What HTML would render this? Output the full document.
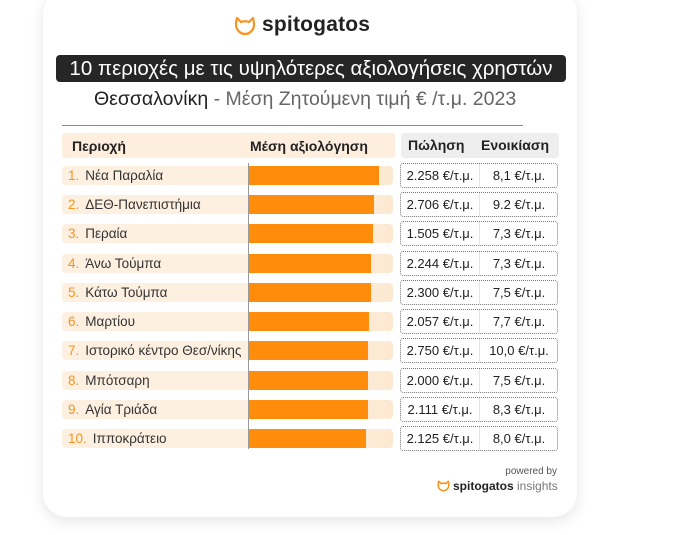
<!DOCTYPE html>
<html><head><meta charset="utf-8"><style>
body{margin:0;width:677px;height:535px;background:#fff;position:relative;overflow:hidden;font-family:"Liberation Sans","DejaVu Sans",sans-serif;}
.card{position:absolute;left:43px;top:-10px;width:534px;height:527px;background:#fff;border-radius:24px;box-shadow:0 4px 14px rgba(0,0,0,0.10);}
.a{position:absolute;}
.row{position:absolute;left:62px;width:331px;height:19px;border-radius:4px;background:linear-gradient(90deg,#fdf0e1 0%,#fdf0e1 60%,#fde9d2 100%);}
.lbl{position:absolute;left:68px;font-size:13.5px;color:#333;line-height:19px;}
.lbl span{color:#f7931e;margin-right:6px;}
.bar{position:absolute;left:249px;height:19px;background:#ff8c0a;}
.box{position:absolute;left:400px;width:156px;height:23px;border:1px dotted #777;border-radius:3px;font-size:13px;color:#222;}
.box .s{position:absolute;left:0;width:78px;text-align:center;line-height:23px;}
.box .r{position:absolute;left:78px;width:78px;text-align:center;line-height:23px;border-left:1px solid #fbe0c0;}
</style></head><body>
<div class="card"></div>
<svg class="a" style="left:234px;top:16px" width="22" height="20" viewBox="0 0 22 20"><path d="M3 2 L7 6 Q11 4.5 15 6 L19 2 Q21 9 19 13 Q16 18 11 18 Q6 18 3 13 Q1 9 3 2Z" fill="none" stroke="#f7931e" stroke-width="2.2" stroke-linejoin="round"/></svg>
<div class="a" style="left:262px;top:13px;font-size:21px;font-weight:bold;color:#222;letter-spacing:0.2px">spitogatos</div>
<div class="a" style="left:56px;top:55px;width:510px;height:27px;background:#262626;border-radius:4px;color:#fff;font-size:20.5px;line-height:27px;text-align:center;white-space:nowrap">10 περιοχές με τις υψηλότερες αξιολογήσεις χρηστών</div>
<div class="a" style="left:94px;top:88px;font-size:19.5px;color:#222;white-space:nowrap">Θεσσαλονίκη <span style="color:#666;font-weight:300">- Μέση Ζητούμενη τιμή € /τ.μ. 2023</span></div>
<div class="a" style="left:62px;top:125px;width:461px;height:1px;background:#888"></div>
<div class="a" style="left:62px;top:133px;width:333px;height:25px;background:#fdeedd;border-radius:3px"></div>
<div class="a" style="left:72px;top:138px;font-size:14px;font-weight:bold;color:#222">Περιοχή</div>
<div class="a" style="left:250px;top:138px;font-size:14px;font-weight:bold;color:#222">Μέση αξιολόγηση</div>
<div class="a" style="left:401px;top:133px;width:158px;height:25px;background:#eeeeee;border-radius:3px"></div>
<div class="a" style="left:408px;top:137px;font-size:14px;font-weight:bold;color:#222">Πώληση</div>
<div class="a" style="left:481px;top:137px;font-size:14px;font-weight:bold;color:#222">Ενοικίαση</div>

<div class="row" style="top:166px"></div><div class="lbl" style="top:166px"><span>1.</span>Νέα Παραλία</div><div class="bar" style="top:166px;width:130px"></div>
<div class="row" style="top:195px"></div><div class="lbl" style="top:195px"><span>2.</span>ΔΕΘ-Πανεπιστήμια</div><div class="bar" style="top:195px;width:125px"></div>
<div class="row" style="top:224px"></div><div class="lbl" style="top:224px"><span>3.</span>Περαία</div><div class="bar" style="top:224px;width:124px"></div>
<div class="row" style="top:254px"></div><div class="lbl" style="top:254px"><span>4.</span>Άνω Τούμπα</div><div class="bar" style="top:254px;width:122px"></div>
<div class="row" style="top:283px"></div><div class="lbl" style="top:283px"><span>5.</span>Κάτω Τούμπα</div><div class="bar" style="top:283px;width:122px"></div>
<div class="row" style="top:312px"></div><div class="lbl" style="top:312px"><span>6.</span>Μαρτίου</div><div class="bar" style="top:312px;width:120px"></div>
<div class="row" style="top:341px"></div><div class="lbl" style="top:341px"><span>7.</span>Ιστορικό κέντρο Θεσ/νίκης</div><div class="bar" style="top:341px;width:119px"></div>
<div class="row" style="top:371px"></div><div class="lbl" style="top:371px"><span>8.</span>Μπότσαρη</div><div class="bar" style="top:371px;width:119px"></div>
<div class="row" style="top:400px"></div><div class="lbl" style="top:400px"><span>9.</span>Αγία Τριάδα</div><div class="bar" style="top:400px;width:119px"></div>
<div class="row" style="top:429px"></div><div class="lbl" style="top:429px"><span>10.</span>Ιπποκράτειο</div><div class="bar" style="top:429px;width:117px"></div>
<div class="a" style="left:248px;top:163px;width:1px;height:286px;background:#999"></div>

<div class="box" style="top:163px"><div class="s">2.258 €/τ.μ.</div><div class="r">8,1 €/τ.μ.</div></div>
<div class="box" style="top:192px"><div class="s">2.706 €/τ.μ.</div><div class="r">9.2 €/τ.μ.</div></div>
<div class="box" style="top:221px"><div class="s">1.505 €/τ.μ.</div><div class="r">7,3 €/τ.μ.</div></div>
<div class="box" style="top:251px"><div class="s">2.244 €/τ.μ.</div><div class="r">7,3 €/τ.μ.</div></div>
<div class="box" style="top:280px"><div class="s">2.300 €/τ.μ.</div><div class="r">7,5 €/τ.μ.</div></div>
<div class="box" style="top:309px"><div class="s">2.057 €/τ.μ.</div><div class="r">7,7 €/τ.μ.</div></div>
<div class="box" style="top:338px"><div class="s">2.750 €/τ.μ.</div><div class="r">10,0 €/τ.μ.</div></div>
<div class="box" style="top:368px"><div class="s">2.000 €/τ.μ.</div><div class="r">7,5 €/τ.μ.</div></div>
<div class="box" style="top:397px"><div class="s">2.111 €/τ.μ.</div><div class="r">8,3 €/τ.μ.</div></div>
<div class="box" style="top:426px"><div class="s">2.125 €/τ.μ.</div><div class="r">8,0 €/τ.μ.</div></div>

<div class="a" style="left:480px;top:466px;width:77px;text-align:right;font-size:10px;color:#555">powered by</div>
<svg class="a" style="left:437px;top:480px" width="13" height="12" viewBox="0 0 22 20"><path d="M3 2 L7 6 Q11 4.5 15 6 L19 2 Q21 9 19 13 Q16 18 11 18 Q6 18 3 13 Q1 9 3 2Z" fill="none" stroke="#f7931e" stroke-width="2.6" stroke-linejoin="round"/></svg>
<div class="a" style="left:453px;top:479px;font-size:12px;color:#222;white-space:nowrap"><b>spitogatos</b> <span style="color:#777">insights</span></div>
</body></html>
